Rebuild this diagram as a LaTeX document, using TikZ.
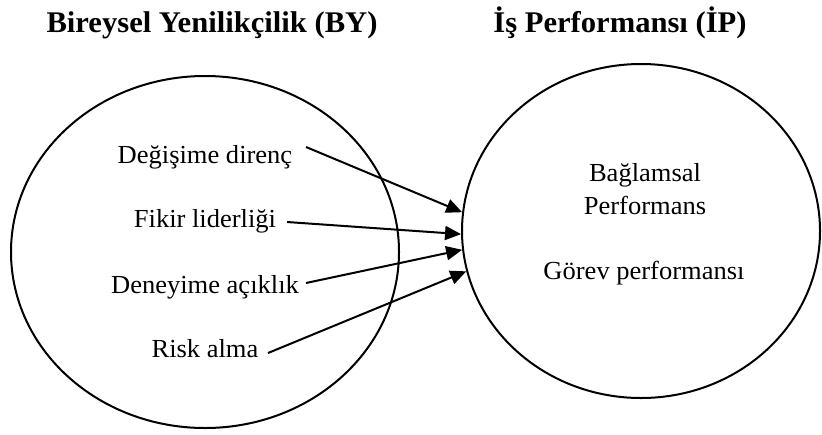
\documentclass[tikz,border=0pt]{standalone}
\usepackage{fontspec}
\setmainfont[FakeStretch=1.02]{Liberation Serif}
\usetikzlibrary{shapes.geometric,arrows.meta}
\begin{document}
\begin{tikzpicture}[x=0.5pt,y=-0.5pt,
  circ/.style={draw,ellipse,line width=1pt,inner sep=0pt},
  lbl/.style={anchor=base,inner sep=0pt,font=\fontsize{13}{15.5}\selectfont},
  ttl/.style={anchor=base,inner sep=0pt,font=\fontsize{15}{18}\selectfont\bfseries},
  conn/.style={line width=1pt,-{Triangle[length=8pt,width=7pt]}}]
\useasboundingbox (0,0) rectangle (822,434);
% titles
\node[ttl] (t1) at (212,32) {Bireysel Yenilikçilik (BY)};
\node[ttl] (t2) at (620,32) {İş Performansı (İP)};
% ellipses
\node[circ,minimum width=194pt,minimum height=176pt] (L) at (205,252) {};
\node[circ,minimum width=179pt,minimum height=167pt] (R) at (641,231) {};
% left texts
\node[lbl] (a) at (205,163) {Değişime direnç};
\node[lbl] (b) at (205,227) {Fikir liderliği};
\node[lbl] (c) at (205,293) {Deneyime açıklık};
\node[lbl] (d) at (205,357) {Risk alma};
% right texts
\node[lbl] (e) at (645,181) {Bağlamsal};
\node[lbl] (f) at (645,214) {Performans};
\node[lbl] (g) at (644,279) {Görev performansı};
% arrow starts
\coordinate (s1) at (306,147);
\coordinate (s2) at (287,222);
\coordinate (s3) at (306,283);
\coordinate (s4) at (268,353);
\draw[conn] (s1) -- (R.174);
\draw[conn] (s2) -- (R.181);
\draw[conn] (s3) -- (R.186);
\draw[conn] (s4) -- (R.193);
\end{tikzpicture}
\end{document}
